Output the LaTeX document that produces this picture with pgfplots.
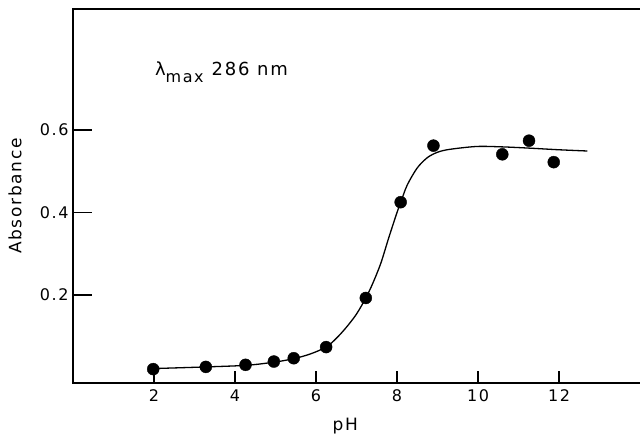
\documentclass[border=0pt]{standalone}
\usepackage{pgfplots}
\pgfplotsset{compat=1.18}
\usepackage{fontspec}
\setmainfont{DejaVu Sans}[LetterSpace=10]
\begin{document}
\begin{tikzpicture}
\useasboundingbox (-73pt,-56pt) rectangle (567pt,383pt);
\begin{axis}[
  scale only axis, width=567pt, height=374pt,
  at={(0,0)}, anchor=south west,
  xmin=0, xmax=14, ymin=-0.013, ymax=0.893,
  axis line style={draw=none},
  xtick pos=left, ytick pos=left,
  xtick={2,4,6,8,10,12}, ytick={0.2,0.4,0.6},
  tick style={draw=none},
  /pgf/number format/assume math mode=true,
  /pgf/number format/fixed, /pgf/number format/precision=1,
  tick label style={font=\fontsize{16}{16}\selectfont},
  xticklabel style={yshift=-3pt},
  yticklabel style={xshift=-1pt},
  xlabel={pH}, ylabel={Absorbance},
  label style={font=\fontsize{17}{17}\selectfont},
  xlabel style={at={(axis description cs:0.48,-0.115)}, anchor=center},
  ylabel style={at={(axis description cs:-0.102,0.5)}, anchor=center},
  clip=false,
]
\draw[line width=2.4pt, line join=miter] (rel axis cs:1,0) -- (rel axis cs:0,0) -- (rel axis cs:0,1) -- (rel axis cs:1,1);
\addplot[black, line width=1.3pt, smooth] coordinates {
(2.0,0.022) (3.3,0.026) (4.3,0.030) (5.0,0.038) (5.45,0.046) (5.85,0.057)
(6.25,0.074) (6.5,0.095) (6.75,0.122) (7.0,0.154) (7.23,0.193) (7.4,0.228)
(7.6,0.277) (7.8,0.340) (8.0,0.400) (8.09,0.424) (8.25,0.466) (8.5,0.508)
(8.75,0.533) (9.0,0.546) (9.3,0.553) (9.97,0.560) (10.6,0.559) (11.26,0.556)
(12.0,0.552) (12.7,0.549)
};
\addplot[only marks, mark=*, mark size=6pt, black] coordinates {
(1.98,0.0206) (3.28,0.026) (4.26,0.031) (4.96,0.039) (5.45,0.047)
(6.25,0.074) (7.23,0.193) (8.09,0.425) (8.90,0.562) (10.60,0.541)
(11.26,0.574) (11.87,0.522)
};
\draw[line width=1.2pt] (axis cs:0,0.2) -- (axis cs:0.47,0.2);
\draw[line width=1.2pt] (axis cs:0,0.4) -- (axis cs:0.47,0.4);
\draw[line width=1.2pt] (axis cs:0,0.6) -- (axis cs:0.47,0.6);
\foreach \r in {0.142857,0.285714,0.428571,0.571429,0.714286,0.857143} {
  \edef\temp{\noexpand\draw[line width=1.3pt] (rel axis cs:\r,0) -- (rel axis cs:\r,0.033);}
  \temp
}
\node[anchor=base west, inner sep=0pt, font=\fontsize{18}{18}\selectfont] at (axis cs:2.02,0.733)
  {λ\raisebox{-7pt}{\fontsize{16}{16}\selectfont max}\hspace{8pt}286 nm};
\end{axis}
\end{tikzpicture}
\end{document}
